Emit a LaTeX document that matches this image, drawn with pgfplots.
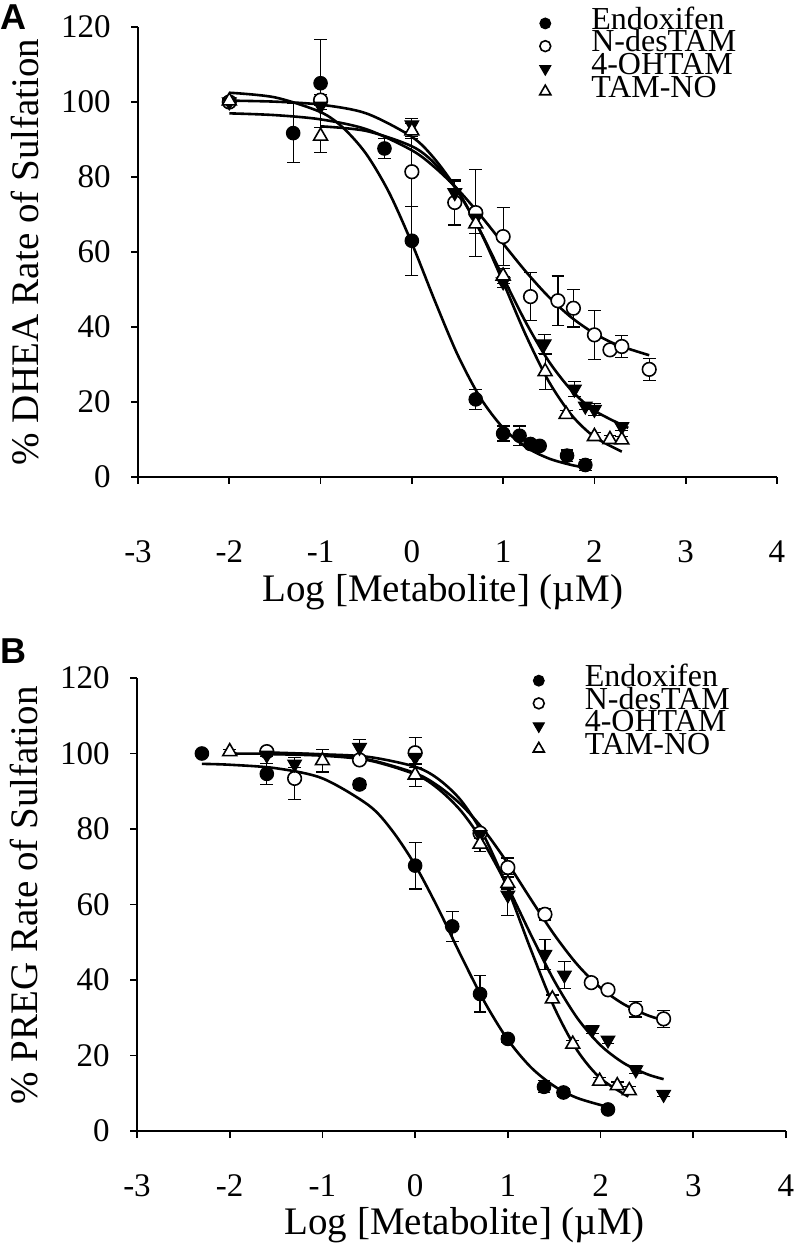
\documentclass[border=0pt]{standalone}
\usepackage{pgfplots}
\pgfplotsset{compat=1.18}
\usepackage{fontspec}
\setmainfont{Liberation Serif}
\newfontfamily\panelfont{Liberation Sans}

\pgfplotsset{
  panel/.style={
    scale only axis,
    axis lines=left,
    axis line style={-, line width=0.8bp, black},
    xmin=-3, xmax=4, ymin=0, ymax=120,
    xtick={-3,-2,-1,0,1,2,3,4},
    ytick={0,20,40,60,80,100,120},
    tick align=outside,
    major tick length=3.5bp,
    tick style={line width=0.8bp, black},
    /pgf/number format/assume math mode=true,
    tick label style={font=\fontsize{16.5bp}{18bp}\selectfont},
    yticklabel style={inner sep=0pt},
    xticklabel style={inner sep=0pt},
    yticklabel shift=10bp,
    label style={font=\fontsize{19.5bp}{22bp}\selectfont},
    clip=false,
    legend cell align=left,
    legend image code/.code={%
      \draw[#1, every mark/.append style={scale=0.8}] plot coordinates {(0bp,0bp)};
      \path[draw=none] (-6bp,0bp) -- (23bp,0bp);},
    legend style={draw=none, fill=none, anchor=north west, inner sep=0pt,
      font=\fontsize{16bp}{16bp}\selectfont, row sep=0bp,
      nodes={inner sep=0pt, text height=8.5bp, text depth=2.85bp}},
  },
  curve/.style={smooth, no marks, line width=1.3bp, black, forget plot},
  ebar/.style={error bars/.cd, y dir=both, y explicit,
    error mark options={rotate=90, black, mark size=3.2bp, line width=0.6bp},
    error bar style={line width=0.6bp, black}},
  endo/.style={only marks, mark=*, mark size=3.4bp,
    mark options={fill=black, draw=black, line width=0.5bp}, ebar},
  ndes/.style={only marks, mark=*, mark size=3.4bp,
    mark options={fill=white, draw=black, line width=0.8bp}, ebar},
  ohtam/.style={only marks, mark=triangle*, mark size=4bp,
    mark options={rotate=180, fill=black, draw=black, line width=0.5bp}, ebar},
  tamno/.style={only marks, mark=triangle*, mark size=4bp,
    mark options={fill=white, draw=black, line width=0.8bp}, ebar},
}

\begin{document}
\begin{tikzpicture}
\useasboundingbox (0,0) rectangle (404.5bp,628.5bp);

% ---------------- Panel A ----------------
\begin{axis}[panel,
  at={(69bp,390bp)}, anchor=south west,
  width=319.5bp, height=225bp,
  xticklabel shift=28bp,
  xlabel={Log [Metabolite] (\textmu M)},
  ylabel={\% DHEA Rate of Sulfation},
  xlabel style={at={(axis description cs:0.477,0)}, anchor=center, yshift=-57.5bp},
  ylabel style={at={(axis description cs:0,0.5)}, anchor=center, yshift=56.5bp},
  legend style={at={(axis description cs:0.618,1.034)}},
]
\addplot[curve] coordinates {(-2,102.47) (-1.5,101.23) (-1,97.31) (-0.75,93.05) (-0.5,86.15) (-0.25,75.88) (0,62.33) (0.25,47.08) (0.5,32.66) (0.75,21.14) (1,13.09) (1.25,7.98) (1.5,4.94) (1.75,3.19) (1.9,2.53)};
\addplot[curve] coordinates {(-2,96.97) (-1.5,96.50) (-1,95.37) (-0.5,92.75) (0,87.12) (0.25,82.59) (0.5,76.77) (0.75,69.81) (1,62.23) (1.25,54.74) (1.5,48.02) (1.75,42.50) (2,38.28) (2.25,35.23) (2.6,32.47)};
\addplot[curve] coordinates {(-2,100.36) (-1.5,100.09) (-1,99.29) (-0.5,96.97) (0,90.71) (0.25,84.81) (0.5,76.39) (0.75,65.55) (1,53.25) (1.25,41.16) (1.5,30.85) (1.75,23.06) (2,17.70) (2.37,13.09)};
\addplot[curve] coordinates {(-1,93.51) (-0.5,92.28) (0,88.19) (0.25,83.64) (0.5,76.26) (0.75,65.50) (1,51.95) (1.25,37.76) (1.5,25.48) (1.75,16.50) (2,10.70) (2.3,6.77)};

\addplot[endo] coordinates {
 (-1.3,91.7) +- (0,7.8) (-1,105) +- (0,11.7) (-0.3,87.6) +- (0,2.6) (0,63) +- (0,9.2)
 (0.7,20.7) +- (0,2.6) (1,11.6) +- (0,2) (1.18,11.0) +- (0,2.6) (1.3,8.8) +- (0,1)
 (1.4,8.3) +- (0,1) (1.7,5.7) +- (0,1.5) (1.9,3.2) +- (0,1.5)};
\addlegendentry{Endoxifen}
\addplot[ndes] coordinates {
 (-2,100) +- (0,0.5) (-1,100.5) +- (0,1.5) (0,81.4) +- (0,9.3) (0.47,73.2) +- (0,6)
 (0.7,70.5) +- (0,11.6) (1,64.1) +- (0,7.8) (1.3,48.1) +- (0,6.4) (1.6,47) +- (0,6.6)
 (1.77,45) +- (0,5) (2,37.9) +- (0,6.6) (2.17,33.9) +- (0,1) (2.3,34.8) +- (0,3)
 (2.6,28.7) +- (0,3)};
\addlegendentry{N-desTAM}
\addplot[ohtam] coordinates {
 (-2,100) +- (0,1) (-1,98.9) +- (0,1) (0,93.9) +- (0,1.8) (0.47,75.8) +- (0,3)
 (0.7,69) +- (0,2) (1,52) +- (0,1.5) (1.45,35.5) +- (0,2.5) (1.78,23.4) +- (0,2)
 (1.9,18.9) +- (0,1) (2,18) +- (0,1.5) (2.3,13.4) +- (0,1)};
\addlegendentry{4-OHTAM}
\addplot[tamno] coordinates {
 (-2,100.3) +- (0,1) (-1,90.9) +- (0,4.4) (0,92.3) +- (0,2) (0.7,67.5) +- (0,2.5)
 (1,53.6) +- (0,2) (1.46,28.1) +- (0,4.7) (1.69,16.7) +- (0,1) (2,10.8) +- (0,1)
 (2.17,10) +- (0,1) (2.3,9.9) +- (0,1)};
\addlegendentry{TAM-NO}
\end{axis}

% ---------------- Panel B ----------------
\begin{axis}[panel,
  at={(68.5bp,63bp)}, anchor=south west,
  width=324.5bp, height=226.5bp,
  xticklabel shift=18bp,
  xlabel={Log [Metabolite] (\textmu M)},
  ylabel={\% PREG Rate of Sulfation},
  xlabel style={at={(axis description cs:0.505,0)}, anchor=center, yshift=-47bp},
  ylabel style={at={(axis description cs:0,0.52)}, anchor=center, yshift=56.5bp},
  legend style={at={(axis description cs:0.6,1.02)}},
]
\addplot[curve] coordinates {(-2.3,97.25) (-2,97.02) (-1.5,96.09) (-1,93.41) (-0.5,86.26) (-0.25,79.65) (0,70.42) (0.25,58.85) (0.5,46.16) (0.75,34.12) (1,24.17) (1.25,16.84) (1.5,11.89) (1.75,8.73) (2.08,6.36)};
\addplot[curve] coordinates {(-1.6,100.28) (-1,99.73) (-0.5,98.36) (0,94.78) (0.25,91.37) (0.5,86.35) (0.75,79.46) (1,70.86) (1.25,61.32) (1.5,52.03) (1.75,44.06) (2,37.92) (2.25,33.59) (2.5,30.72) (2.68,29.31)};
\addplot[curve] coordinates {(-1.6,99.85) (-1,99.42) (-0.5,98.18) (0,94.48) (0.25,90.64) (0.5,84.62) (0.75,75.89) (1,64.59) (1.25,51.92) (1.5,39.81) (1.75,29.88) (2,22.70) (2.25,17.98) (2.5,15.07) (2.68,13.73)};
\addplot[curve] coordinates {(-2,99.99) (-1.5,99.94) (-1,99.77) (-0.5,99.09) (0,96.49) (0.25,93.24) (0.5,87.41) (0.75,77.81) (1,64.08) (1.25,47.92) (1.5,32.77) (1.75,21.29) (2,13.93) (2.3,9.12)};

\addplot[endo] coordinates {
 (-2.3,100) +- (0,0.5) (-1.6,94.6) +- (0,2.8) (-0.6,91.8) +- (0,1) (0,70.3) +- (0,6.2)
 (0.4,54.2) +- (0,4) (0.7,36.3) +- (0,4.8) (1,24.4) +- (0,1) (1.39,11.7) +- (0,1.6)
 (1.6,10.2) +- (0,1) (2.08,5.7) +- (0,1)};
\addlegendentry{Endoxifen}
\addplot[ndes] coordinates {
 (-1.6,100.5) +- (0,0.5) (-1.3,93.4) +- (0,5.5) (-0.6,98.3) +- (0,1) (0,100.2) +- (0,4)
 (0.7,78.9) +- (0,1) (1,69.8) +- (0,2.5) (1.4,57.4) +- (0,1.5) (1.9,39.3) +- (0,1)
 (2.08,37.4) +- (0,1) (2.38,32.2) +- (0,2) (2.68,29.7) +- (0,2.2)};
\addlegendentry{N-desTAM}
\addplot[ohtam] coordinates {
 (-1.6,99.6) +- (0,0.5) (-1.3,97.2) +- (0,1) (-0.6,101.6) +- (0,2.2) (0,99) +- (0,2)
 (0.7,78.5) +- (0,1) (1,62.5) +- (0,5.5) (1.4,46.8) +- (0,4) (1.61,41.3) +- (0,3.5)
 (1.91,26.8) +- (0,1) (2.08,24.1) +- (0,1) (2.38,16.2) +- (0,1) (2.68,9.7) +- (0,0.5)};
\addlegendentry{4-OHTAM}
\addplot[tamno] coordinates {
 (-2,100.5) +- (0,0.5) (-1,98.1) +- (0,3) (0,94.3) +- (0,3) (0.7,76) +- (0,2)
 (1,65.6) +- (0,1.5) (1.48,35) +- (0,1) (1.7,23) +- (0,1) (1.99,13.2) +- (0,1)
 (2.18,12) +- (0,1) (2.31,10.7) +- (0,1)};
\addlegendentry{TAM-NO}
\end{axis}

\node[anchor=center, font=\panelfont\bfseries\fontsize{18bp}{18bp}\selectfont] at (6.5bp,620bp) {A};
\node[anchor=center, font=\panelfont\bfseries\fontsize{18bp}{18bp}\selectfont] at (6.5bp,303bp) {B};
\end{tikzpicture}
\end{document}
